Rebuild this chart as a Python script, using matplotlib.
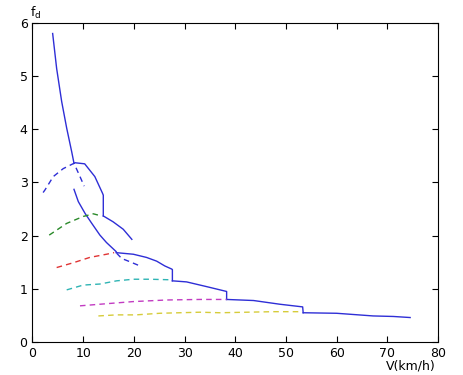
import matplotlib
matplotlib.use("Agg")
import matplotlib.pyplot as plt

# solid envelope pieces (blue)
steep_x = [3.98, 4.77, 5.76, 6.75, 7.73, 8.19]
steep_y = [5.80, 5.14, 4.52, 4.02, 3.58, 3.36]

g1_x = [8.19, 8.4, 10.3, 12.3, 13.8, 13.97, 13.97]
g1_y = [3.36, 3.37, 3.35, 3.11, 2.80, 2.76, 2.37]

g2_x = [13.97, 15.9, 17.9, 19.6]
g2_y = [2.37, 2.26, 2.12, 1.93]

second_x = [8.19, 9.04, 10.36, 11.7, 13.3, 14.6, 16.5]
second_y = [2.87, 2.64, 2.42, 2.23, 2.01, 1.87, 1.70]

second_dash_x = [16.6, 17.6, 19.2, 21.2]
second_dash_y = [1.67, 1.57, 1.51, 1.43]

g3_x = [16.5, 19.9, 22.5, 24.5, 26.1, 27.5, 27.6, 27.6]
g3_y = [1.68, 1.65, 1.59, 1.52, 1.43, 1.37, 1.36, 1.15]

g4_x = [27.6, 30.4, 34.4, 37.0, 38.3, 38.3]
g4_y = [1.15, 1.13, 1.04, 0.98, 0.95, 0.80]

g5_x = [38.3, 43.6, 48.8, 53.3, 53.4]
g5_y = [0.80, 0.78, 0.71, 0.66, 0.55]

g6_x = [53.4, 60.0, 67.2, 71.2, 74.5]
g6_y = [0.55, 0.54, 0.49, 0.48, 0.46]

# dashed gear curves
d1_x = [2.1, 2.47, 4.1, 6.07, 8.19, 9.37, 10.2]
d1_y = [2.81, 2.86, 3.11, 3.26, 3.36, 3.11, 2.93]

d2_x = [3.3, 6.75, 10.0, 12.0, 13.6]
d2_y = [2.01, 2.23, 2.36, 2.41, 2.37]

d3_x = [4.77, 8.05, 11.3, 14.6, 16.1]
d3_y = [1.40, 1.49, 1.59, 1.65, 1.68]

d4_x = [6.75, 10.0, 13.3, 16.6, 19.9, 23.2, 27.1]
d4_y = [0.98, 1.07, 1.09, 1.15, 1.18, 1.18, 1.17]

d5_x = [9.37, 13.3, 19.9, 26.5, 33.0, 38.3]
d5_y = [0.68, 0.71, 0.76, 0.79, 0.80, 0.80]

d6_x = [13.0, 16.6, 20.4, 25.1, 33.0, 37.0, 47.5, 53.1]
d6_y = [0.49, 0.51, 0.51, 0.54, 0.56, 0.55, 0.57, 0.57]

BLUE = "#2e2ed6"
DASH = (0, (4, 3))

fig = plt.figure(figsize=(4.64, 3.75), dpi=100)
ax = fig.add_axes([0.070, 0.088, 0.874, 0.851])

for xs, ys in [(steep_x, steep_y), (g1_x, g1_y), (g2_x, g2_y), (second_x, second_y),
               (g3_x, g3_y), (g4_x, g4_y), (g5_x, g5_y), (g6_x, g6_y)]:
    ax.plot(xs, ys, color=BLUE, lw=1.0)

ax.plot(second_dash_x, second_dash_y, color=BLUE, lw=1.0, linestyle=DASH)
ax.plot(d1_x, d1_y, color=BLUE, lw=1.0, linestyle=DASH)
ax.plot(d2_x, d2_y, color="#2a8a2a", lw=1.0, linestyle=DASH)
ax.plot(d3_x, d3_y, color="#e03434", lw=1.0, linestyle=DASH)
ax.plot(d4_x, d4_y, color="#2fb4b4", lw=1.0, linestyle=DASH)
ax.plot(d5_x, d5_y, color="#c23cc2", lw=1.0, linestyle=DASH)
ax.plot(d6_x, d6_y, color="#d6cc3a", lw=1.0, linestyle=DASH)

ax.set_xlim(0, 80)
ax.set_ylim(0, 6)
ax.set_xticks(range(0, 81, 10))
ax.set_yticks(range(0, 7))
ax.tick_params(direction="in", top=True, right=True, labelsize=9, length=4, width=0.8)
for s in ax.spines.values():
    s.set_linewidth(0.8)

fig.text(0.076, 0.965, r"f$_\mathregular{d}$", fontsize=9, ha="center", va="center")
fig.text(0.885, 0.025, "V(km/h)", fontsize=9, ha="center", va="center")

fig.savefig("out.png", dpi=100)
